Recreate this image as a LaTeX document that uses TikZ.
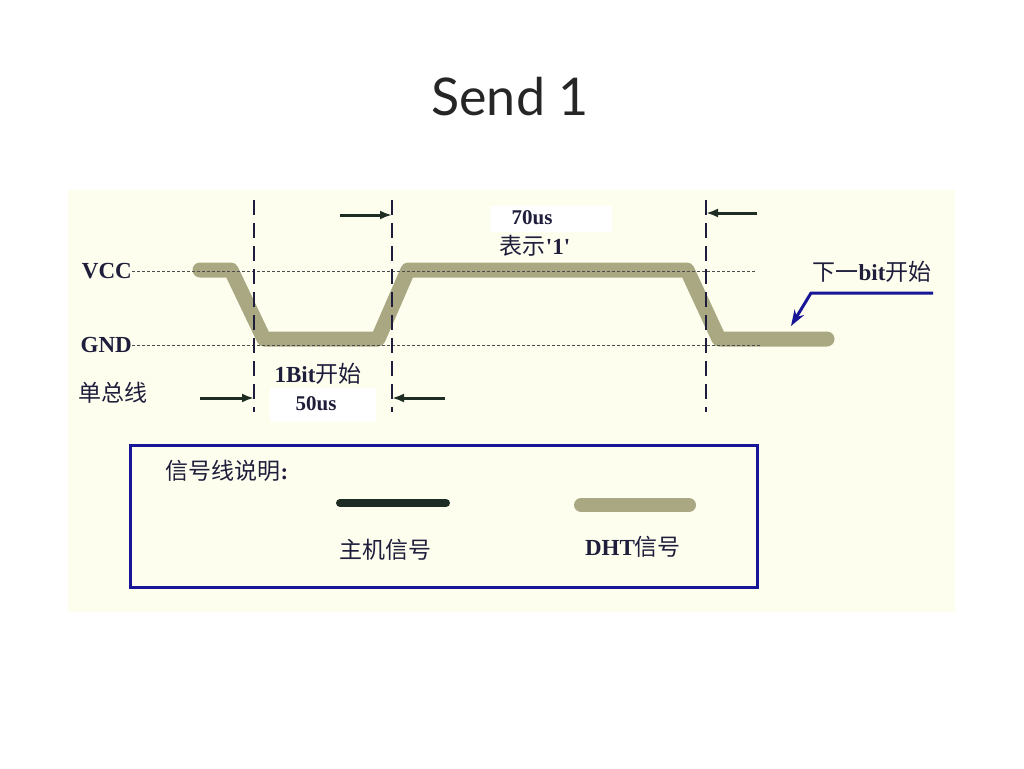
\documentclass[tikz,border=0pt]{standalone}
\usepackage{fontspec}
\setmainfont{Liberation Serif}
\newfontfamily\cjk{Noto Sans CJK SC}
\newfontfamily\titlefont{Lato}
\newcommand\lat[1]{{\rmfamily\bfseries #1}}
\usetikzlibrary{arrows.meta}
\definecolor{panelbg}{RGB}{254,254,238}
\definecolor{dhtcol}{RGB}{169,168,131}
\definecolor{hostcol}{RGB}{30,45,35}
\definecolor{framecol}{RGB}{22,22,150}
\definecolor{inkcol}{RGB}{30,30,60}
\begin{document}
\begin{tikzpicture}
[x=1pt,y=-1pt,
every node/.style={inner sep=0pt,text=inkcol},
lbl/.style={font=\bfseries\fontsize{23}{25}\selectfont},
small/.style={font=\bfseries\fontsize{21}{23}\selectfont},
cjklbl/.style={font=\cjk\fontsize{23}{25}\selectfont},
dht/.style={line width=15pt,dhtcol,line cap=round,line join=round},
level/.style={densely dashed,line width=0.8pt,black!70},
timemark/.style={dash pattern=on 15pt off 8pt,line width=1.2pt,inkcol},
dimarrow/.style={line width=3pt,hostcol,-{Latex[length=12pt,width=9pt]}},
whitebox/.style={fill=white,draw=none}]
	\useasboundingbox (0,0) rectangle (1024,768);
	\fill[white] (0,0) rectangle (1024,768);
	\fill[panelbg] (68,190) rectangle (955,612);
	% title
	\node[font=\titlefont\fontsize{52}{60}\selectfont,text=black!85] (title) at (510,97) {Send 1};
	% white patches behind the times
	\fill[whitebox] (490,206) rectangle (612,232);
	\fill[whitebox] (270,388) rectangle (376,422);
	% DHT signal
	\coordinate (s0) at (200,270);
	\coordinate (s1) at (231,270);
	\coordinate (s2) at (264,339);
	\coordinate (s3) at (378,339);
	\coordinate (s4) at (408,270);
	\coordinate (s5) at (687,270);
	\coordinate (s6) at (719,339);
	\coordinate (s7) at (827,339);
	\draw[dht] (s0) -- (s1) -- (s2) -- (s3) -- (s4) -- (s5) -- (s6) -- (s7);
	% levels
	\node[lbl,anchor=east] (vcc) at (132,271) {VCC};
	\node[lbl,anchor=east] (gnd) at (132,345) {GND};
	\coordinate (vccend) at (755,271);
	\coordinate (gndend) at (760,345);
	\draw[level] (vcc.east) -- (vccend);
	\draw[level] (gnd.east) -- (gndend);
	\node[cjklbl] (bus) at (113,393) {单总线};
	% time marks
	\foreach \name/\x in {ma/254,mb/392,mc/706}{
		\coordinate (\name top) at (\x,200);
		\coordinate (\name bot) at (\x,412);
		\draw[timemark] (\name top) -- (\name bot);
	}
	\coordinate (a1) at (340,215);
	\coordinate (a1e) at (392,215);
	\coordinate (a2) at (757,213);
	\coordinate (a2e) at (706,213);
	\coordinate (a3) at (200,398);
	\coordinate (a3e) at (254,398);
	\coordinate (a4) at (445,398);
	\coordinate (a4e) at (392,398);
	\draw[dimarrow] (a1) -- (a1e);
	\draw[dimarrow] (a2) -- (a2e);
	\draw[dimarrow] (a3) -- (a3e);
	\draw[dimarrow] (a4) -- (a4e);
	% time labels
	\node[small] (t70) at (532,218) {70us};
	\node[cjklbl] (one) at (535,246) {表示\lat{\textquotesingle1\textquotesingle}};
	\node[cjklbl] (start) at (318,374) {\lat{1Bit}开始};
	\node[small] (t50) at (316,404) {50us};
	% next bit
	\node[cjklbl] (next) at (872,272) {下一\lat{bit}开始};
	\coordinate (n0) at (933,293);
	\coordinate (n1) at (811,293);
	\coordinate (n2) at (791,326);
	\draw[line width=3pt,framecol,-{Stealth[length=16pt,width=11pt]}] (n0) -- (n1) -- (n2);
	% legend
	\draw[line width=3pt,framecol] (130,445) rectangle (757,587);
	\node[cjklbl] (legend) at (227,471) {信号线说明\lat{:}};
	\coordinate (h0) at (340,503);
	\coordinate (h1) at (446,503);
	\draw[line width=8pt,hostcol,line cap=round] (h0) -- (h1);
	\coordinate (d0) at (581,505);
	\coordinate (d1) at (689,505);
	\draw[dht,line width=14pt] (d0) -- (d1);
	\node[cjklbl] (host) at (385,550) {主机信号};
	\node[cjklbl] (dhtsig) at (633,547) {\lat{DHT}信号};
\end{tikzpicture}
\end{document}
